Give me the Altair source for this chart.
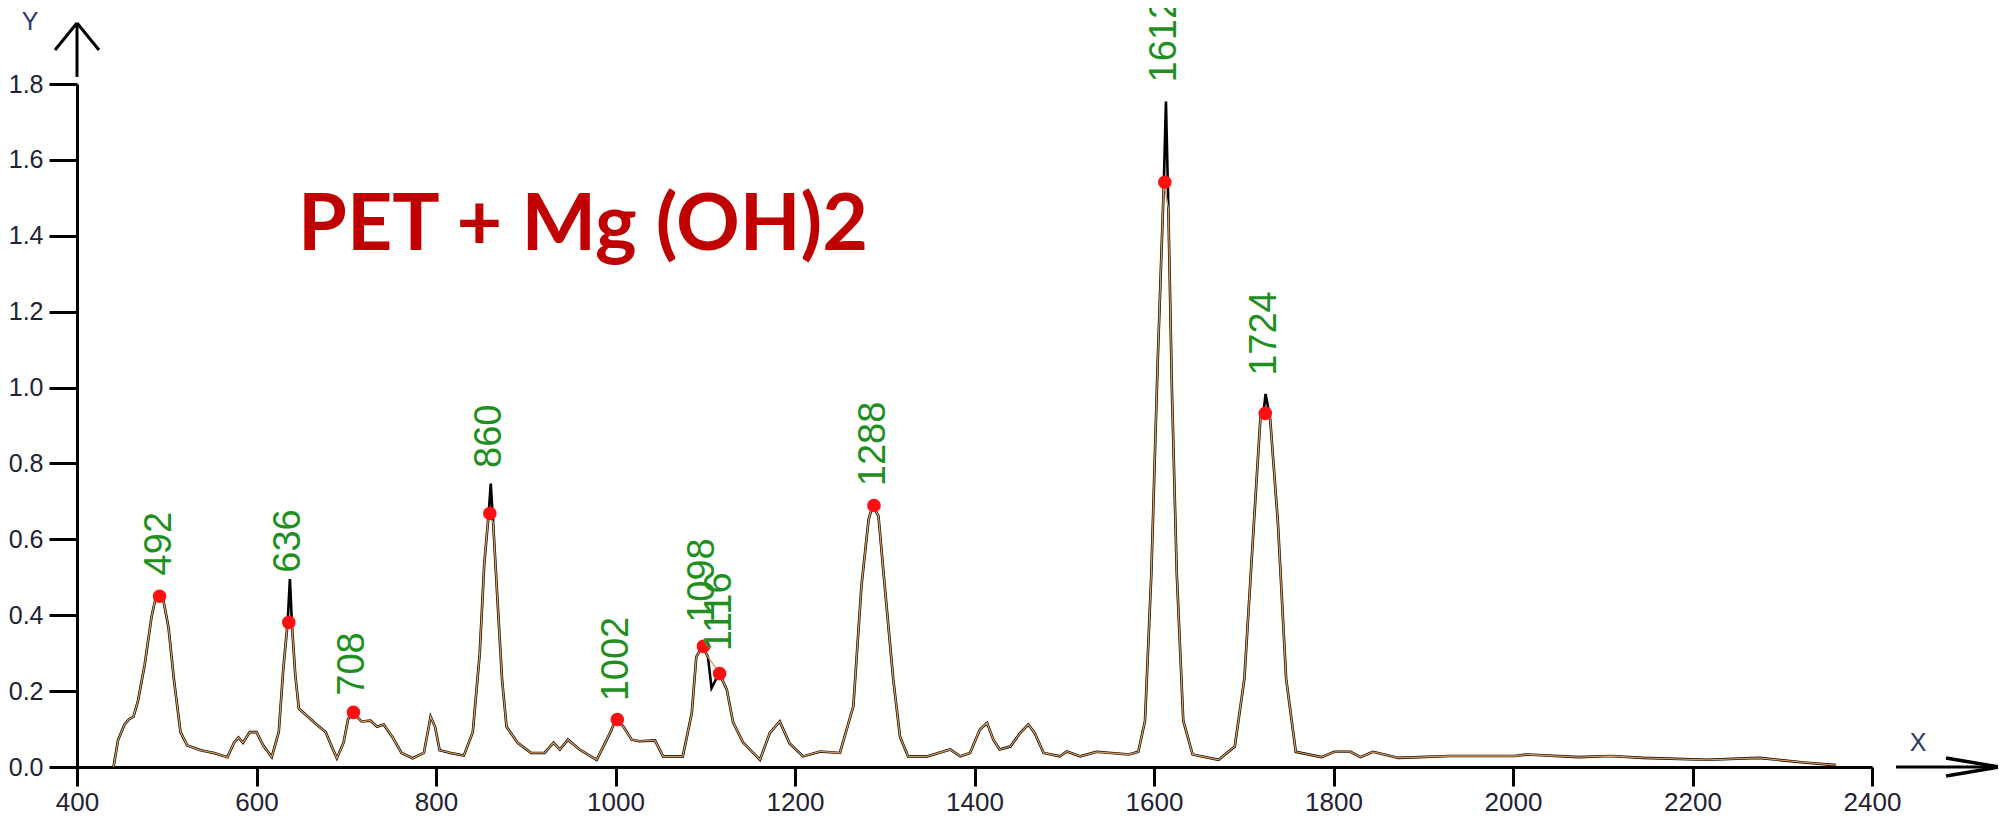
import altair as alt
import pandas as pd

# ---- spectrum (raw trace) ----
wavenumber = [
    440.7, 445.7, 453, 458, 463, 468, 475.5, 483, 488, 495.4, 502, 508, 515.3, 522.8,
    537.7, 552.7, 567.6, 575, 580, 585, 592.5, 600, 607.4, 617, 624.8, 629.8, 634.7,
    637.2, 639.7, 643.2, 647.2, 657, 667, 677, 684.5, 689.5, 697, 702, 707, 717, 727,
    734.3, 741.7, 751.7, 761.6, 774, 786.5, 794, 799, 804, 816.4, 831, 841, 848.7,
    853.7, 858.7, 861, 863.7, 868.6, 873.6, 878.6, 891, 906, 921, 931, 938, 947, 960,
    979, 994, 1000.4, 1008.6, 1018, 1027, 1044, 1053, 1075, 1085, 1090, 1097, 1103,
    1107, 1115.6, 1124, 1131, 1142, 1161, 1172, 1183, 1194, 1209, 1228, 1250, 1265,
    1274, 1282, 1286.5, 1293, 1300, 1309.5, 1317, 1326, 1347, 1373, 1384, 1395, 1406,
    1414, 1421, 1428, 1440, 1451, 1460, 1467, 1477, 1495, 1503, 1518, 1536, 1572,
    1582.5, 1590, 1597, 1604, 1609, 1611, 1613.3, 1616, 1620, 1625.4, 1632.6, 1643,
    1672, 1690, 1700.7, 1711.4, 1718.6, 1722, 1724.3, 1729.3, 1738, 1747.2, 1758,
    1786.6, 1801, 1819, 1830, 1844, 1872.6, 1930, 2001.6, 2016, 2073, 2109, 2145,
    2216.5, 2274, 2324, 2360,
]
intensity = [
    0.0, 0.071, 0.112, 0.126, 0.133, 0.175, 0.271, 0.395, 0.450, 0.450, 0.367, 0.23, 0.092, 0.057,
    0.044, 0.037, 0.026, 0.064, 0.078, 0.064, 0.092, 0.092, 0.057, 0.026, 0.092, 0.257, 0.381,
    0.495, 0.367, 0.243, 0.154, 0.133, 0.112, 0.092, 0.050, 0.023, 0.064, 0.126, 0.144, 0.12, 0.122,
    0.106, 0.112, 0.078, 0.037, 0.023, 0.037, 0.133, 0.106, 0.044, 0.037, 0.030, 0.092, 0.298,
    0.533, 0.668, 0.747, 0.643, 0.436, 0.23, 0.106, 0.064, 0.037, 0.037, 0.064, 0.046, 0.072, 0.046,
    0.019, 0.090, 0.125, 0.107, 0.072, 0.068, 0.070, 0.028, 0.028, 0.142, 0.29, 0.318, 0.29,
    0.208, 0.248, 0.204, 0.118, 0.065, 0.019, 0.090, 0.12, 0.062, 0.028, 0.041, 0.037, 0.16,
    0.476, 0.652, 0.689, 0.661, 0.476, 0.23, 0.08, 0.028, 0.028, 0.046, 0.028, 0.037, 0.099,
    0.116, 0.072, 0.046, 0.054, 0.090, 0.112, 0.090, 0.037, 0.028, 0.041, 0.028, 0.04, 0.033,
    0.04, 0.122, 0.508, 1.059, 1.403, 1.541, 1.754, 1.472, 0.990, 0.508, 0.122, 0.033,
    0.019, 0.054, 0.233, 0.646, 0.921, 0.932, 0.983, 0.921, 0.646, 0.233, 0.040,
    0.026, 0.040, 0.04, 0.026, 0.040, 0.024, 0.029, 0.029, 0.033, 0.026, 0.029, 0.024,
    0.019, 0.024, 0.012, 0.005,
]
# points that only the raw (black) trace reaches; the fitted (orange) trace skips them
raw_only_wavenumbers = [637.2, 861, 1107, 1613.3, 1724.3]

# ---- picked peaks ----
peak_positions = [492, 636, 708, 860, 1002, 1098, 1116, 1288, 1612, 1724]
peak_intensity = [0.450, 0.381, 0.144, 0.668, 0.125, 0.318, 0.246, 0.689, 1.541, 0.932]
peak_label_level = [0.505, 0.512, 0.188, 0.788, 0.173, 0.380, 0.305, 0.740, 1.804, 1.031]

x_ticks = [400, 600, 800, 1000, 1200, 1400, 1600, 1800, 2000, 2200, 2400]
y_ticks = [0.0, 0.2, 0.4, 0.6, 0.8, 1.0, 1.2, 1.4, 1.6, 1.8]
title_text = "PET + Mg (OH)2"

raw = pd.DataFrame({"wn": wavenumber, "val": intensity})
fit = raw[~raw["wn"].isin(raw_only_wavenumbers)].reset_index(drop=True)
peaks = pd.DataFrame({
    "wn": peak_positions,
    "val": peak_intensity,
    "lab": peak_label_level,
    "txt": [str(p) for p in peak_positions],
})

W, H = 1795, 683

xscale = alt.Scale(domain=[400, 2400], nice=False, zero=False)
yscale = alt.Scale(domain=[0, 1.8], nice=False, zero=True)

axis_common = dict(
    grid=False, title=None, domainColor="black", tickColor="black",
    domainWidth=3, tickWidth=3, labelFont="Liberation Sans",
    labelColor="#222233", labelOverlap=False, labelFlush=False,
)
xaxis = alt.Axis(values=x_ticks, format="d", tickSize=19, labelPadding=24, labelFontSize=26,
                 labelBaseline="alphabetic", **axis_common)
yaxis = alt.Axis(values=y_ticks, format=".1f", tickSize=28, labelPadding=6, labelFontSize=25,
                 **axis_common)

raw_line = alt.Chart(raw).mark_line(color="black", strokeWidth=2.6).encode(
    x=alt.X("wn:Q", scale=xscale, axis=xaxis),
    y=alt.Y("val:Q", scale=yscale, axis=yaxis),
)
fit_line = alt.Chart(fit).mark_line(color="#d99a5b", strokeWidth=1.3).encode(
    x=alt.X("wn:Q", scale=xscale),
    y=alt.Y("val:Q", scale=yscale),
)
dots = alt.Chart(peaks).mark_point(filled=True, color="#ff1010", size=185, opacity=1).encode(
    x=alt.X("wn:Q", scale=xscale),
    y=alt.Y("val:Q", scale=yscale),
)
labels = alt.Chart(peaks).mark_text(
    angle=270, align="left", baseline="middle", font="Liberation Sans",
    fontSize=38, color="#1f8f1f",
).encode(
    x=alt.X("wn:Q", scale=xscale),
    y=alt.Y("lab:Q", scale=yscale),
    text="txt:N",
)

one = alt.Data(values=[{}])
title = alt.Chart(one).mark_text(
    text=title_text, font="Lato", fontWeight="bold", fontSize=79, color="#c00000",
    align="left", baseline="alphabetic",
).encode(x=alt.value(221), y=alt.value(166))


def seg(x1, y1, x2, y2, w=3):
    return alt.Chart(one).mark_rule(color="black", strokeWidth=w).encode(
        x=alt.value(x1), y=alt.value(y1), x2=alt.value(x2), y2=alt.value(y2)
    )


arrows = [
    seg(0, -61, 0, -7),
    seg(-22, -34, 0, -61),
    seg(0, -61, 22, -34),
    seg(1819, H, 1922, H),
    seg(1869, H - 9, 1922, H, 3.5),
    seg(1869, H + 9, 1922, H, 3.5),
]
axis_letters = [
    alt.Chart(one).mark_text(text="Y", font="Liberation Sans", fontSize=25, color="#2b3a67",
                             align="center", baseline="middle").encode(x=alt.value(-47), y=alt.value(-62)),
    alt.Chart(one).mark_text(text="X", font="Liberation Sans", fontSize=25, color="#2b3a67",
                             align="center", baseline="middle").encode(x=alt.value(1841), y=alt.value(659)),
]

chart = alt.layer(raw_line, fit_line, dots, labels, title, *arrows, *axis_letters).properties(
    width=W, height=H,
    background="white",
    autosize=alt.AutoSizeParams(type="none"),
    padding={"left": 69, "top": 76, "right": 126, "bottom": 48},
).configure_view(stroke=None)

chart.save("out.html", embed_options={"renderer": "svg", "actions": False})
